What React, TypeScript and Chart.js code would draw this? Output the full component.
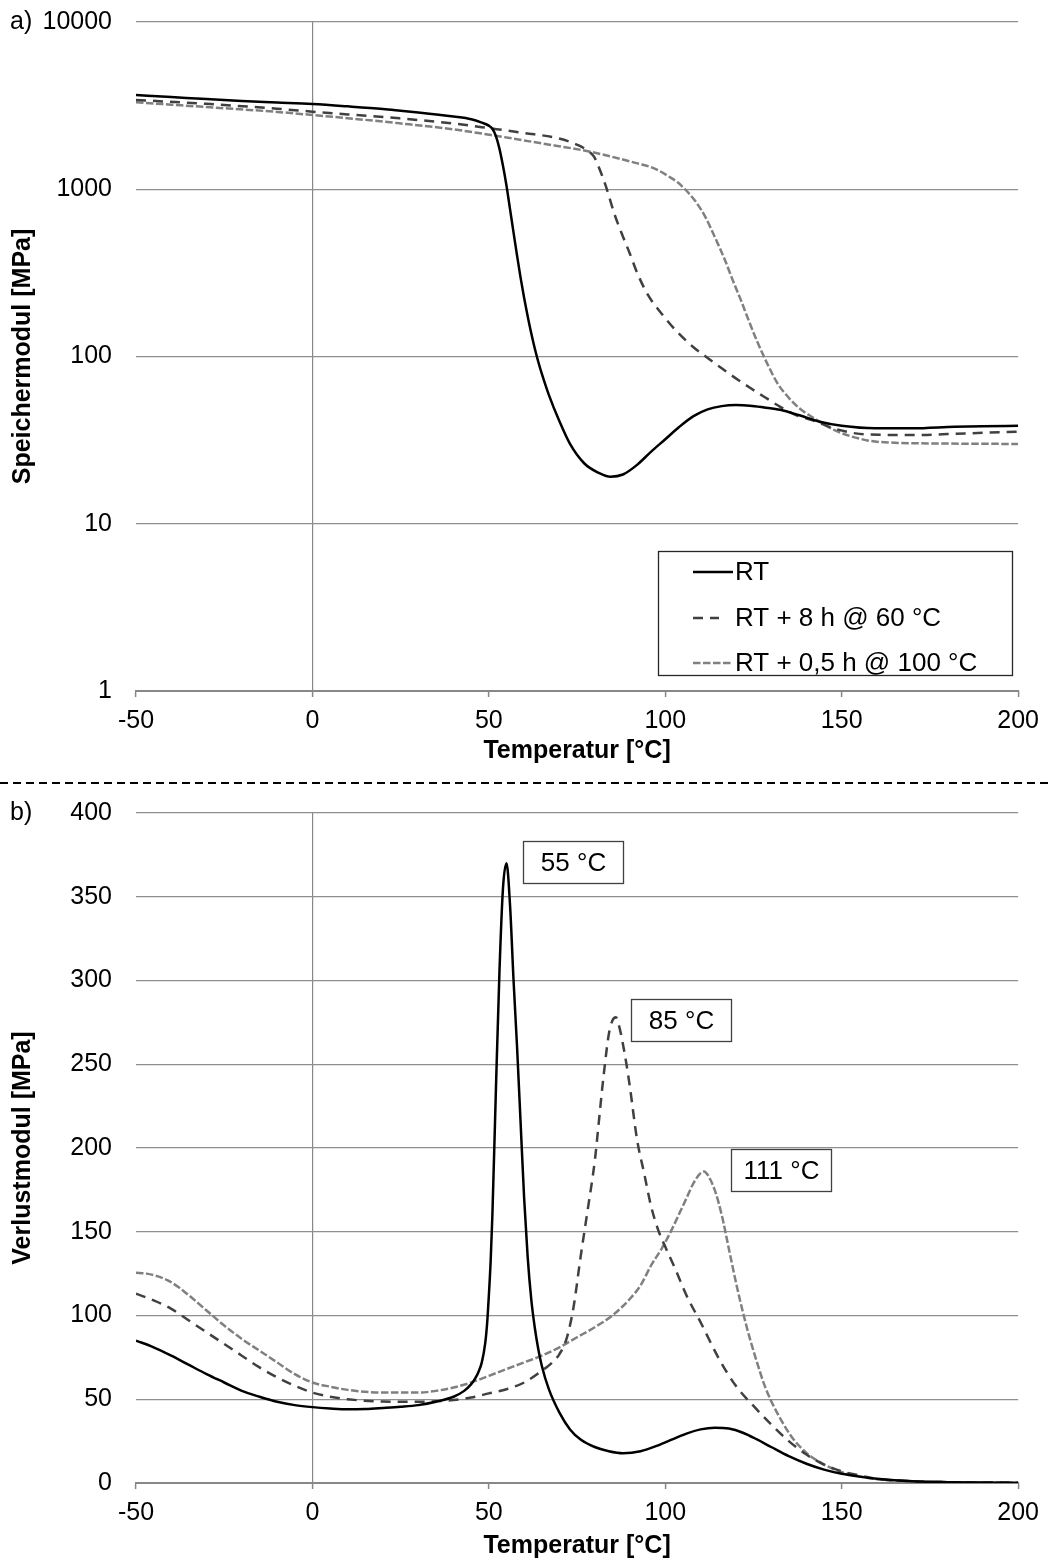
import React, { useEffect, useRef } from 'react';
import { Chart, registerables } from 'chart.js';

Chart.register(...registerables);

const FONT = '"Liberation Sans", Arial, Helvetica, sans-serif';
const AXIS = '#878787';
const GRID = '#8f8f8f';

// ---------- a) Speichermodul (storage modulus, log scale) ----------
const storageRT_T = [-50, -40, -30, -20, -10, 0, 10, 20, 25, 30, 40, 45, 48, 50, 51, 52, 53, 54, 55, 56, 57, 58, 59, 60, 61, 62, 63, 64, 65, 67, 70, 73, 77, 81, 84.5, 88, 92, 96, 100, 104, 108, 112, 116, 120, 124, 128, 132.6, 138, 143.8, 150, 159.5, 170, 182, 190, 200];
const storageRT_E = [3660, 3560, 3460, 3370, 3300, 3230, 3130, 3020, 2950, 2880, 2720, 2620, 2500, 2400, 2300, 2080, 1750, 1380, 1050, 760, 550, 400, 295, 224, 174, 138, 112, 93, 79, 59, 41, 30, 23, 20.2, 19.1, 19.7, 22.5, 27, 32, 38, 44, 48.3, 50.5, 51.2, 50.8, 49.6, 48, 44.5, 40.7, 38.5, 37.2, 37.2, 38, 38.3, 38.5];

const storage8h_T = [-50, -30, -10, 0, 10, 24.7, 40, 50.6, 60, 69.7, 75.3, 78, 79.8, 81.5, 83.2, 85.5, 87.6, 90, 92.1, 95, 98.9, 103, 107.9, 112, 116, 120, 124, 128, 132.6, 137, 141.6, 147, 153.9, 162, 170.8, 185, 200];
const storage8h_E = [3420, 3240, 3030, 2910, 2800, 2655, 2470, 2310, 2170, 2015, 1836, 1700, 1566, 1300, 1036, 720, 547, 410, 314, 235, 181, 143, 114, 98, 85, 74, 65, 57.5, 50, 44.7, 41.7, 37.6, 34.7, 34, 33.9, 34.7, 35.5];

const storage05h_T = [-50, -30, -10, 0, 10, 24.7, 40, 50.6, 65, 78.7, 92.1, 97, 101.1, 103.5, 105.6, 108.5, 111.3, 114, 116.9, 119, 121.4, 123.6, 125.9, 129.3, 132, 134.9, 138, 141.6, 148.3, 157.3, 165, 170.8, 185, 200];
const storage05h_E = [3310, 3100, 2900, 2780, 2660, 2478, 2280, 2110, 1880, 1676, 1428, 1330, 1188, 1100, 1000, 850, 686, 520, 378, 290, 218, 165, 125, 87, 68, 57, 49, 43.5, 36, 31.5, 30.5, 30.3, 30.1, 30];

// ---------- b) Verlustmodul (loss modulus, linear scale) ----------
const lossRT_T = [-50, -45, -40, -35, -30, -25, -20, -15, -10, -5, 0, 5, 10, 15, 20, 25, 30, 35, 40, 43, 45, 46, 47, 48, 49, 49.5, 50, 50.5, 51, 52, 53, 54, 55, 56, 57, 58, 59, 60, 61, 62, 63, 64, 65, 67, 70, 73, 76, 80, 84, 88, 93, 98, 102, 106, 110, 114, 118, 122, 126, 130, 135, 140, 145, 150, 155, 160, 165, 170, 180, 190, 200];
const lossRT_V = [85, 81, 76, 70.5, 65, 60, 55, 51.5, 48.5, 46.5, 45.3, 44.5, 44, 44.2, 44.8, 45.5, 46.5, 48.5, 51.5, 55, 59, 62, 66, 72, 84, 95, 112, 132, 160, 235, 305, 355, 370, 345, 300, 260, 215, 170, 135, 110, 93, 80, 70, 56, 42, 32, 26, 21.5, 19, 17.8, 19, 22.5, 26, 29.5, 32, 33, 32.5, 30, 26, 21.5, 16, 11.5, 8, 5.5, 3.8, 2.5, 1.6, 1, 0.5, 0.3, 0.2];

const loss8h_T = [-50, -45, -40, -35, -30, -25, -20, -15, -10, -5, 0, 5, 10, 20, 30, 40, 45, 50, 55, 60, 65, 68, 70, 72, 74, 76, 78, 80, 81, 82, 83, 84, 85, 86, 87, 88, 89, 90, 92, 94, 96, 98, 100, 103, 106, 110, 115, 120, 125, 130, 135, 140, 145, 150, 155, 160, 170, 180, 200];
const loss8h_V = [113, 109, 104, 97, 90, 83, 76, 69, 63, 58, 54, 51.5, 50, 48.6, 48.5, 49.5, 51, 53.5, 56, 60, 67, 72, 77, 86, 105, 135, 163, 192, 212, 233, 252, 268, 276, 278, 272, 262, 250, 236, 205, 185, 165, 151, 141, 127, 112, 96, 75, 58, 46, 35, 25, 17, 11, 7, 4.5, 2.5, 1, 0.5, 0.2];

const loss05h_T = [-50, -47, -44, -41, -38, -35, -30, -25, -20, -15, -10, -5, 0, 5, 10, 20, 30, 35, 40, 45, 50, 55, 60, 65, 70, 75, 80, 85, 90, 93, 96, 99, 102, 104, 106, 108, 110, 111, 112, 114, 116, 118, 120, 122, 124, 126, 128, 130, 133, 136, 140, 145, 150, 155, 160, 170, 180, 200];
const loss05h_V = [125.5, 125, 123.5, 121, 117, 112, 103, 94, 86, 79, 72, 65, 60, 57.5, 55.6, 54, 54, 55, 57, 60, 64, 68, 72, 76, 81, 87, 93, 100, 110, 118, 130, 140, 152, 161, 170, 179, 185, 186, 184, 175, 160, 140, 120, 102, 86, 72, 59, 49, 37, 27, 18, 11, 6.5, 4, 2.3, 1, 0.5, 0.2];

const seriesNames = ['RT', 'RT + 8 h @ 60 °C', 'RT + 0,5 h @ 100 °C'];
const seriesColors = ['#000000', '#404040', '#808080'];
const seriesDashes: number[][] = [[], [10, 7], [7.5, 2.5]];

const tempTicks = [-50, 0, 50, 100, 150, 200];
const storageTicks = [1, 10, 100, 1000, 10000];
const lossTicks = [0, 50, 100, 150, 200, 250, 300, 350, 400];

const peakLabels = ['55 °C', '85 °C', '111 °C'];
const peakLabelT = [59.8, 90.4, 118.5];
const peakLabelV = [383, 289, 199.5];

const xTitle = 'Temperatur [°C]';
const yTitleTop = 'Speichermodul [MPa]';
const yTitleBottom = 'Verlustmodul [MPa]';

function pts(xs: number[], ys: number[]) {
  return xs.map((x, i) => ({ x, y: ys[i] }));
}

function makeDatasets(pairs: [number[], number[]][]) {
  return pairs.map(([xs, ys], i) => ({
    label: seriesNames[i],
    data: pts(xs, ys),
    borderColor: seriesColors[i],
    backgroundColor: seriesColors[i],
    borderDash: seriesDashes[i],
    borderWidth: 2.5,
    pointRadius: 0,
    fill: false,
    cubicInterpolationMode: 'monotone' as const,
  }));
}

function xScale(chartHeight: number, plotBottom: number, titlePadBottom: number) {
  return {
    type: 'linear' as const,
    min: -50,
    max: 200,
    afterBuildTicks: (s: any) => {
      s.ticks = tempTicks.map((v) => ({ value: v }));
    },
    afterFit: (s: any) => {
      s.height = chartHeight - plotBottom;
    },
    grid: {
      color: (c: any) => (c.tick && c.tick.value === 0 ? AXIS : 'rgba(0,0,0,0)'),
      tickColor: AXIS,
      tickLength: 6,
      tickWidth: 1.5,
      lineWidth: 1.2,
    },
    border: { display: true, color: AXIS, width: 2 },
    ticks: {
      color: '#000',
      font: { family: FONT, size: 25 },
      padding: 9,
      maxRotation: 0,
      callback: (v: any) => String(v),
    },
    title: {
      display: true,
      text: xTitle,
      color: '#000',
      font: { family: FONT, size: 25, weight: 'bold' as const },
      padding: { top: 0, bottom: titlePadBottom },
    },
  };
}

function yTitle(text: string) {
  return {
    display: true,
    text,
    color: '#000',
    font: { family: FONT, size: 25, weight: 'bold' as const },
    padding: { top: 8, bottom: 0 },
  };
}

function yFit(s: any) {
  s.width = 136;
  s.paddingTop = 0;
  s.paddingBottom = 0;
}

const topDecor = {
  id: 'topDecor',
  afterDraw(chart: any) {
    const ctx = chart.ctx as CanvasRenderingContext2D;
    const y = chart.scales.y;
    ctx.save();
    ctx.fillStyle = '#000';
    ctx.font = `25px ${FONT}`;
    ctx.textBaseline = 'middle';
    ctx.textAlign = 'left';
    ctx.fillText('a)', 10, y.getPixelForValue(storageTicks[storageTicks.length - 1]));

    // legend box
    ctx.lineWidth = 1.3;
    ctx.strokeStyle = '#262626';
    ctx.setLineDash([]);
    ctx.fillStyle = '#fff';
    ctx.fillRect(658.5, 551.5, 354, 124);
    ctx.strokeRect(658.5, 551.5, 354, 124);
    const rows = [572, 618, 663];
    const sampleEnd = [733, 719, 733];
    chart.data.datasets.forEach((ds: any, i: number) => {
      ctx.strokeStyle = ds.borderColor;
      ctx.lineWidth = ds.borderWidth;
      ctx.setLineDash(ds.borderDash || []);
      ctx.beginPath();
      ctx.moveTo(693, rows[i]);
      ctx.lineTo(sampleEnd[i], rows[i]);
      ctx.stroke();
      ctx.setLineDash([]);
      ctx.fillStyle = '#000';
      ctx.font = `26px ${FONT}`;
      ctx.textBaseline = 'middle';
      ctx.fillText(ds.label, 735, rows[i] + 1);
    });

    // separator between the panels
    ctx.strokeStyle = '#000';
    ctx.lineWidth = 2;
    ctx.setLineDash([8, 5]);
    ctx.beginPath();
    ctx.moveTo(0, 783);
    ctx.lineTo(1048, 783);
    ctx.stroke();
    ctx.restore();
  },
};

const bottomDecor = {
  id: 'bottomDecor',
  afterDraw(chart: any) {
    const ctx = chart.ctx as CanvasRenderingContext2D;
    const x = chart.scales.x;
    const y = chart.scales.y;
    ctx.save();
    ctx.fillStyle = '#000';
    ctx.font = `25px ${FONT}`;
    ctx.textBaseline = 'middle';
    ctx.textAlign = 'left';
    ctx.fillText('b)', 10, y.getPixelForValue(lossTicks[lossTicks.length - 1]));

    peakLabels.forEach((txt, i) => {
      const px = Math.round(x.getPixelForValue(peakLabelT[i])) + 0.5;
      const py = Math.round(y.getPixelForValue(peakLabelV[i])) + 0.5;
      const w = 100;
      const h = 42;
      ctx.fillStyle = '#fff';
      ctx.fillRect(px, py, w, h);
      ctx.strokeStyle = '#404040';
      ctx.lineWidth = 1.3;
      ctx.setLineDash([]);
      ctx.strokeRect(px, py, w, h);
      ctx.fillStyle = '#000';
      ctx.font = `26px ${FONT}`;
      ctx.textAlign = 'center';
      ctx.textBaseline = 'middle';
      ctx.fillText(txt, px + w / 2, py + h / 2 + 1);
    });
    ctx.restore();
  },
};

const TOP_H = 790;
const BOT_H = 777;

export default function App() {
  const topRef = useRef<HTMLCanvasElement>(null);
  const botRef = useRef<HTMLCanvasElement>(null);

  useEffect(() => {
    const top = new Chart(topRef.current as HTMLCanvasElement, {
      type: 'line',
      data: {
        datasets: makeDatasets([
          [storageRT_T, storageRT_E],
          [storage8h_T, storage8h_E],
          [storage05h_T, storage05h_E],
        ]) as any,
      },
      options: {
        responsive: false,
        animation: false,
        devicePixelRatio: 1,
        layout: { padding: { left: 0, right: 29, top: 22, bottom: 0 } },
        plugins: { legend: { display: false }, tooltip: { enabled: false } },
        scales: {
          x: xScale(TOP_H, 691, 24),
          y: {
            type: 'logarithmic',
            min: 1,
            max: 10000,
            afterBuildTicks: (s: any) => {
              s.ticks = storageTicks.map((v) => ({ value: v }));
            },
            afterFit: yFit,
            grid: { color: GRID, lineWidth: 1.2, drawTicks: false },
            border: { display: false },
            ticks: {
              color: '#000',
              font: { family: FONT, size: 25 },
              padding: 24,
              callback: (v: any) => String(v),
            },
            title: yTitle(yTitleTop),
          },
        },
      } as any,
      plugins: [topDecor],
    });

    const bottom = new Chart(botRef.current as HTMLCanvasElement, {
      type: 'line',
      data: {
        datasets: makeDatasets([
          [lossRT_T, lossRT_V],
          [loss8h_T, loss8h_V],
          [loss05h_T, loss05h_V],
        ]) as any,
      },
      options: {
        responsive: false,
        animation: false,
        devicePixelRatio: 1,
        layout: { padding: { left: 0, right: 29, top: 23, bottom: 0 } },
        plugins: { legend: { display: false }, tooltip: { enabled: false } },
        scales: {
          x: xScale(BOT_H, 693, 6),
          y: {
            type: 'linear',
            min: 0,
            max: 400,
            afterBuildTicks: (s: any) => {
              s.ticks = lossTicks.map((v) => ({ value: v }));
            },
            afterFit: yFit,
            grid: { color: GRID, lineWidth: 1.2, drawTicks: false },
            border: { display: false },
            ticks: {
              color: '#000',
              font: { family: FONT, size: 25 },
              padding: 24,
              callback: (v: any) => String(v),
            },
            title: yTitle(yTitleBottom),
          },
        },
      } as any,
      plugins: [bottomDecor],
    });

    return () => {
      top.destroy();
      bottom.destroy();
    };
  }, []);

  return (
    <div style={{ position: 'absolute', left: 0, top: 0, width: 1048, height: 1567, background: '#fff' }}>
      <canvas
        ref={topRef}
        width={1048}
        height={TOP_H}
        style={{ position: 'absolute', left: 0, top: 0, width: 1048, height: TOP_H, display: 'block' }}
      />
      <canvas
        ref={botRef}
        width={1048}
        height={BOT_H}
        style={{ position: 'absolute', left: 0, top: TOP_H, width: 1048, height: BOT_H, display: 'block' }}
      />
    </div>
  );
}
